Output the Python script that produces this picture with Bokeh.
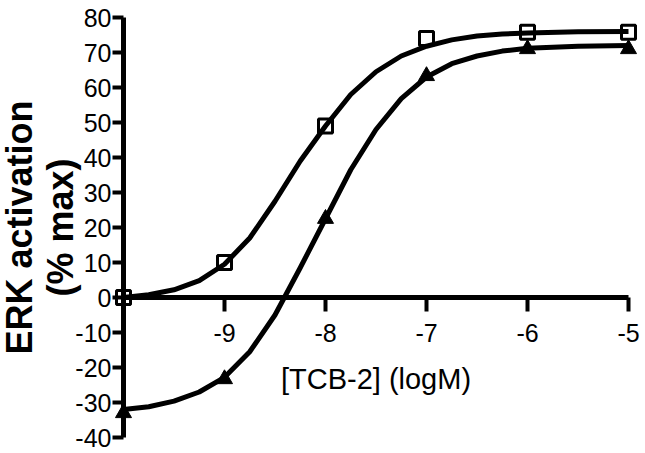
from bokeh.plotting import figure
from bokeh.models import FixedTicker, Range1d
from bokeh.embed import file_html
from bokeh.resources import INLINE

# measured points
dose = [-10, -9, -8, -7, -6, -5]
open_squares = [0, 10, 49, 74, 75.8, 75.8]
filled_triangles = [-33, -23.3, 22.5, 63.3, 71, 71]

# fitted curves
fit_x = [-10.0, -9.75, -9.5, -9.25, -9.0, -8.75, -8.5, -8.25, -8.0, -7.75,
         -7.5, -7.25, -7.0, -6.75, -6.5, -6.25, -6.0, -5.5, -5.0]
fit_squares = [0.0, 0.8, 2.2, 4.8, 9.5, 17.0, 27.5, 39.0, 49.0, 58.0,
               64.5, 69.0, 71.8, 73.6, 74.7, 75.3, 75.6, 75.9, 76.0]
fit_triangles = [-32.0, -31.2, -29.6, -27.0, -22.8, -15.5, -5.0, 8.5, 22.5, 36.5,
                 48.0, 56.8, 63.0, 66.8, 69.0, 70.4, 71.2, 71.8, 72.0]

x_ticks = [-9, -8, -7, -6, -5]
y_ticks = [-40, -30, -20, -10, 0, 10, 20, 30, 40, 50, 60, 70, 80]

FONT = "Liberation Sans, Arial, sans-serif"

W, H = 645, 453
PX_PER_X = 101.0
PX_PER_Y = 3.5
x0 = -10 - 123 / PX_PER_X
y1 = 80 + 17 / PX_PER_Y

p = figure(width=W, height=H, output_backend="svg", toolbar_location=None,
           title=None,
           x_range=Range1d(x0, x0 + W / PX_PER_X),
           y_range=Range1d(y1 - H / PX_PER_Y, y1),
           min_border_left=0, min_border_right=0, min_border_top=0,
           min_border_bottom=0)
p.outline_line_color = None
p.xgrid.visible = False
p.ygrid.visible = False
p.background_fill_color = "white"
p.border_fill_color = "white"

for ax in (p.xaxis[0], p.yaxis[0]):
    ax.axis_line_width = 5
    ax.axis_line_color = "black"
    ax.major_tick_line_width = 4
    ax.major_tick_line_color = "black"
    ax.major_tick_in = 0
    ax.minor_tick_line_color = None
    ax.major_label_text_font = FONT
    ax.major_label_text_font_size = "25px"
    ax.major_label_text_color = "black"
    ax.axis_label_text_font = FONT
    ax.axis_label_text_color = "black"

xa = p.xaxis[0]
xa.fixed_location = 0
xa.bounds = (-10, -5)
xa.ticker = FixedTicker(ticks=x_ticks)
xa.major_label_overrides = {t: str(t) for t in x_ticks}
xa.major_tick_out = 14
xa.major_label_standoff = 12
xa.axis_label = "[TCB-2] (logM)"
xa.axis_label_text_font_size = "29px"
xa.axis_label_text_font_style = "normal"
xa.axis_label_standoff = 18

ya = p.yaxis[0]
ya.fixed_location = -10
ya.bounds = (-40, 80)
ya.ticker = FixedTicker(ticks=y_ticks)
ya.major_label_overrides = {t: str(t) for t in y_ticks}
ya.major_tick_out = 11
ya.major_label_standoff = 1
ya.axis_label = "ERK activation\n(% max)"
ya.axis_label_text_font_size = "36px"
ya.axis_label_text_font_style = "bold"
ya.axis_label_text_line_height = 1.0
ya.axis_label_standoff = -9

p.line(fit_x, fit_squares, line_width=5, line_color="black", line_join="round")
p.line(fit_x, fit_triangles, line_width=5, line_color="black", line_join="round")

p.scatter(dose, filled_triangles, marker="triangle", size=16,
          fill_color="black", line_color="black", line_width=1)
p.scatter(dose, open_squares, marker="square", size=14,
          fill_alpha=0, line_color="black", line_width=3)

open("out.html", "w").write(file_html(p, INLINE))
